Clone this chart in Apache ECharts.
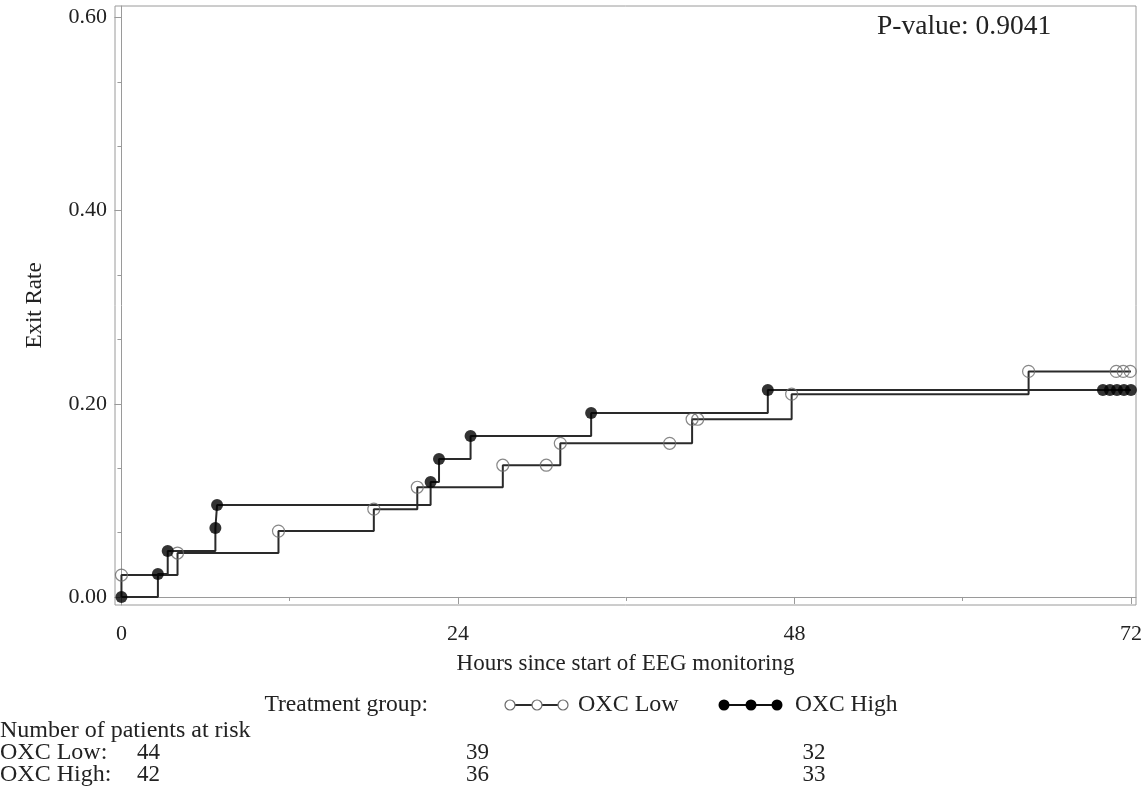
<!DOCTYPE html>
<html>
<head>
<meta charset="utf-8">
<script src="https://cdn.jsdelivr.net/npm/echarts@6/dist/echarts.min.js"></script>
<style>
html,body{margin:0;padding:0;background:#fff;}
#c{width:1146px;height:788px;}
</style>
</head>
<body>
<div id="c"></div>
<script>
// ---- data ----
const lowTimes  = [0, 0, 4.0, 11.2, 18.0, 21.1, 27.2, 31.3, 40.7, 47.8, 64.7, 72.0];
const lowRates  = [0, 0.0227, 0.0455, 0.0682, 0.0909, 0.1136, 0.1364, 0.1591, 0.1840, 0.2100, 0.2335, 0.2335];
const highTimes = [0, 2.6, 3.3, 6.7, 6.82, 22.05, 22.65, 24.9, 33.5, 46.1, 72.0];
const highRates = [0, 0.0238, 0.0476, 0.0714, 0.0952, 0.1190, 0.1429, 0.1667, 0.1905, 0.2143, 0.2143];

const lowMarkTimes  = [0, 4.0, 11.2, 18.0, 21.1, 27.2, 30.3, 31.3, 39.1, 40.7, 41.1, 47.8, 64.7, 70.95, 71.45, 71.95];
const lowMarkRates  = [0.0227, 0.0455, 0.0682, 0.0909, 0.1136, 0.1364, 0.1364, 0.1591, 0.1591, 0.1840, 0.1840, 0.2100, 0.2335, 0.2335, 0.2335, 0.2335];
const highMarkTimes = [0, 2.6, 3.3, 6.7, 6.82, 22.05, 22.65, 24.9, 33.5, 46.1, 70.0, 70.5, 71.0, 71.5, 72.0];
const highMarkRates = [0, 0.0238, 0.0476, 0.0714, 0.0952, 0.1190, 0.1429, 0.1667, 0.1905, 0.2143, 0.2143, 0.2143, 0.2143, 0.2143, 0.2143];

const xTicks = [0, 24, 48, 72];
const xMinorTicks = [12, 36, 60];
const yTicks = [0, 0.2, 0.4, 0.6];
const yMinorTicks = [0.0667, 0.1333, 0.2667, 0.3333, 0.4667, 0.5333];

const riskTimes = [0, 24, 48];
const riskLow  = [44, 39, 32];
const riskHigh = [42, 36, 33];

const groupNames = ['OXC Low', 'OXC High'];
const pValueText = 'P-value: 0.9041';

// ---- chart ----
const FONT = '"Liberation Serif", "DejaVu Serif", serif';
const TXT = '#222';
const AX = '#9a9a9a';
const pairs = (a, b) => a.map((v, i) => [v, b[i]]);

const chart = echarts.init(document.getElementById('c'), null, {renderer: 'canvas'});

const xMin = -0.46, xMax = 72.36, yMin = -0.0083, yMax = 0.6118;

const baseX = {
  type: 'value', min: xMin, max: xMax, position: 'bottom',
  splitLine: {show: false},
  axisLine: {show: true, lineStyle: {color: AX, width: 1}}
};
const baseY = {
  type: 'value', min: yMin, max: yMax, position: 'left',
  splitLine: {show: false},
  axisLine: {show: true, lineStyle: {color: AX, width: 1}}
};

chart.setOption({
  animation: false,
  backgroundColor: '#fff',
  grid: {left: 115, top: 6, right: 10, bottom: 183, show: true, borderColor: AX, borderWidth: 1, backgroundColor: 'transparent'},
  xAxis: [
    Object.assign({}, baseX, {
      name: 'Hours since start of EEG monitoring',
      nameLocation: 'middle', nameGap: 47,
      nameTextStyle: {fontFamily: FONT, fontSize: 23, color: TXT},
      axisTick: {show: true, length: 7, lineStyle: {color: AX}, customValues: xTicks},
      axisLabel: {show: true, margin: 18, fontFamily: FONT, fontSize: 22, color: TXT, customValues: xTicks,
                  formatter: v => String(Math.round(v))}
    }),
    Object.assign({}, baseX, {
      axisLine: {show: false},
      axisTick: {show: true, length: 4, lineStyle: {color: AX}, customValues: xMinorTicks},
      axisLabel: {show: false}
    })
  ],
  yAxis: [
    Object.assign({}, baseY, {
      name: 'Exit Rate',
      nameLocation: 'middle', nameGap: 69, nameRotate: 90,
      nameTextStyle: {fontFamily: FONT, fontSize: 23, color: TXT},
      axisTick: {show: true, length: 7, lineStyle: {color: AX}, customValues: yTicks},
      axisLabel: {show: true, margin: 8, fontFamily: FONT, fontSize: 22, color: TXT, customValues: yTicks,
                  formatter: v => v.toFixed(2)}
    }),
    Object.assign({}, baseY, {
      axisLine: {show: false},
      axisTick: {show: true, length: 4, lineStyle: {color: AX}, customValues: yMinorTicks},
      axisLabel: {show: false}
    })
  ],
  series: [
    {
      name: groupNames[0], type: 'line', step: 'end', showSymbol: false, symbol: 'none',
      data: pairs(lowTimes, lowRates),
      lineStyle: {color: '#2a2a2a', width: 2}, z: 3
    },
    {
      name: groupNames[1], type: 'line', step: 'end', showSymbol: false, symbol: 'none',
      data: pairs(highTimes, highRates),
      lineStyle: {color: '#2a2a2a', width: 2}, z: 3
    },
    {
      name: groupNames[0] + ' markers', type: 'scatter', symbol: 'circle', symbolSize: 12,
      data: pairs(lowMarkTimes, lowMarkRates),
      itemStyle: {color: 'rgba(255,255,255,0)', borderColor: '#6a6a6a', borderWidth: 1.2}, z: 4
    },
    {
      name: groupNames[1] + ' markers', type: 'scatter', symbol: 'circle', symbolSize: 12,
      data: pairs(highMarkTimes, highMarkRates),
      itemStyle: {color: '#000'}, z: 5
    }
  ]
});

// ---- annotations: p-value, legend, risk table ----
const tStyle = (text, x, y, align, size) => ({
  type: 'text', x: x, y: y,
  style: {text: text, fontFamily: FONT, fontSize: size || 24, fill: TXT, align: align || 'left', verticalAlign: 'middle'}
});

const g = [];
g.push(tStyle(pValueText, 877, 27, 'left', 27.5));

// legend
const legY = 705;
g.push(tStyle('Treatment group:', 428, legY, 'right', 23.6));
g.push({type: 'line', shape: {x1: 505, y1: legY, x2: 567, y2: legY}, style: {stroke: '#2a2a2a', lineWidth: 2}});
[510, 537, 563].forEach(cx => g.push({type: 'circle', shape: {cx: cx, cy: legY, r: 5}, style: {fill: '#fff', stroke: '#6a6a6a', lineWidth: 1.2}}));
g.push(tStyle(groupNames[0], 578, legY, 'left', 24));
g.push({type: 'line', shape: {x1: 720, y1: legY, x2: 780, y2: legY}, style: {stroke: '#111', lineWidth: 2}});
[724, 751, 777].forEach(cx => g.push({type: 'circle', shape: {cx: cx, cy: legY, r: 5.5}, style: {fill: '#000'}}));
g.push(tStyle(groupNames[1], 795, legY, 'left', 23.5));

// risk table
g.push(tStyle('Number of patients at risk', 0, 731, 'left', 24));
g.push(tStyle(groupNames[0] + ':', 0, 753, 'left', 24));
g.push(tStyle(groupNames[1] + ':', 0, 775, 'left', 24));
riskTimes.forEach((t, i) => {
  const px = chart.convertToPixel({xAxisIndex: 0}, t);
  const x = Math.max(px + 8, 137);
  g.push(tStyle(String(riskLow[i]), x, 753, 'left', 23));
  g.push(tStyle(String(riskHigh[i]), x, 775, 'left', 23));
});

chart.setOption({graphic: g});
</script>
</body>
</html>
